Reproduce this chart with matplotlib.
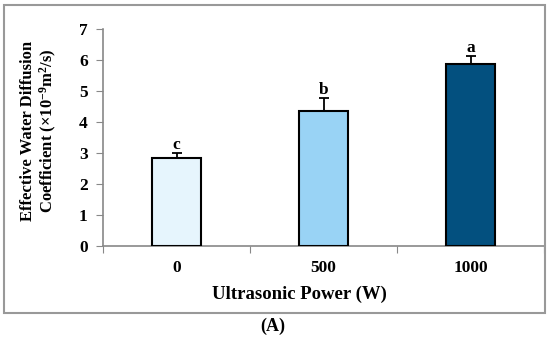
import matplotlib
matplotlib.use("Agg")
import matplotlib.pyplot as plt
from matplotlib.patches import Rectangle

categories = ["0", "500", "1000"]
values = [2.85, 4.36, 5.89]
errors = [0.16, 0.42, 0.26]
letters = ["c", "b", "a"]
colors = ["#E6F5FD", "#99D3F5", "#03507F"]
yticks = [0, 1, 2, 3, 4, 5, 6, 7]

plt.rcParams["font.family"] = ["Liberation Serif", "DejaVu Serif"]
plt.rcParams["font.weight"] = "bold"
plt.rcParams["mathtext.fontset"] = "custom"
plt.rcParams["mathtext.rm"] = "Liberation Serif:bold"
plt.rcParams["mathtext.it"] = "Liberation Serif:bold"
plt.rcParams["mathtext.bf"] = "Liberation Serif:bold"

fig = plt.figure(figsize=(5.5, 3.38), dpi=100)
ax = fig.add_axes([103/550, 1-246/338, 441/550, (246-29.3)/338])

x = list(range(len(categories)))
ax.bar(x, values, width=0.33, color=colors, edgecolor="black", linewidth=1.5, zorder=3)
ax.errorbar(x, values, yerr=[[0]*len(values), errors], fmt="none", ecolor="black",
            elinewidth=1.3, capsize=3.5, capthick=1.3, zorder=2)
for xi, v, e, l in zip(x, values, errors, letters):
    ax.text(xi, v + e + 0.0, l, ha="center", va="bottom", fontsize=12.5, fontweight="bold")

ax.set_xlim(-0.5, 2.5)
ax.set_ylim(0, 7)
ax.set_yticks(yticks)
ax.set_yticklabels([str(t) for t in yticks], fontsize=12.5, fontweight="bold")
ax.set_xticks([-0.5, 0.5, 1.5, 2.5])
ax.set_xticklabels([])
ax.set_xticks(x, minor=True)
ax.set_xticklabels(categories, minor=True, fontsize=12.5, fontweight="bold")
ax.tick_params(axis="x", which="minor", length=0, pad=10)
ax.tick_params(axis="x", which="major", length=5, color="#888888", direction="out")
ax.tick_params(axis="y", length=5, color="#888888", direction="out", pad=6)
for s in ["top", "right"]:
    ax.spines[s].set_visible(False)
for s in ["left", "bottom"]:
    ax.spines[s].set_color("#888888")
    ax.spines[s].set_linewidth(1.2)

ax.set_xlabel("Ultrasonic Power (W)", fontsize=13.5, fontweight="bold")
ax.xaxis.set_label_coords((299-103)/441, (246-286)/216.7)
ax.set_ylabel("Effective Water Diffusion\nCoefficient (×10$^{-9}$m$^{2}$/s)",
              fontsize=12, fontweight="bold", linespacing=1.15)
ax.yaxis.set_label_coords((59-103)/441, (246-131)/216.7)

fig.patches.append(Rectangle((4/550, 1-313/338), 541/550, 308/338, transform=fig.transFigure,
                             fill=False, edgecolor="#999999", linewidth=1.5))
fig.text(273/550, 1-326/338, "(A)", ha="center", va="center", fontsize=13, fontweight="bold")

fig.savefig("out.png", dpi=100)
